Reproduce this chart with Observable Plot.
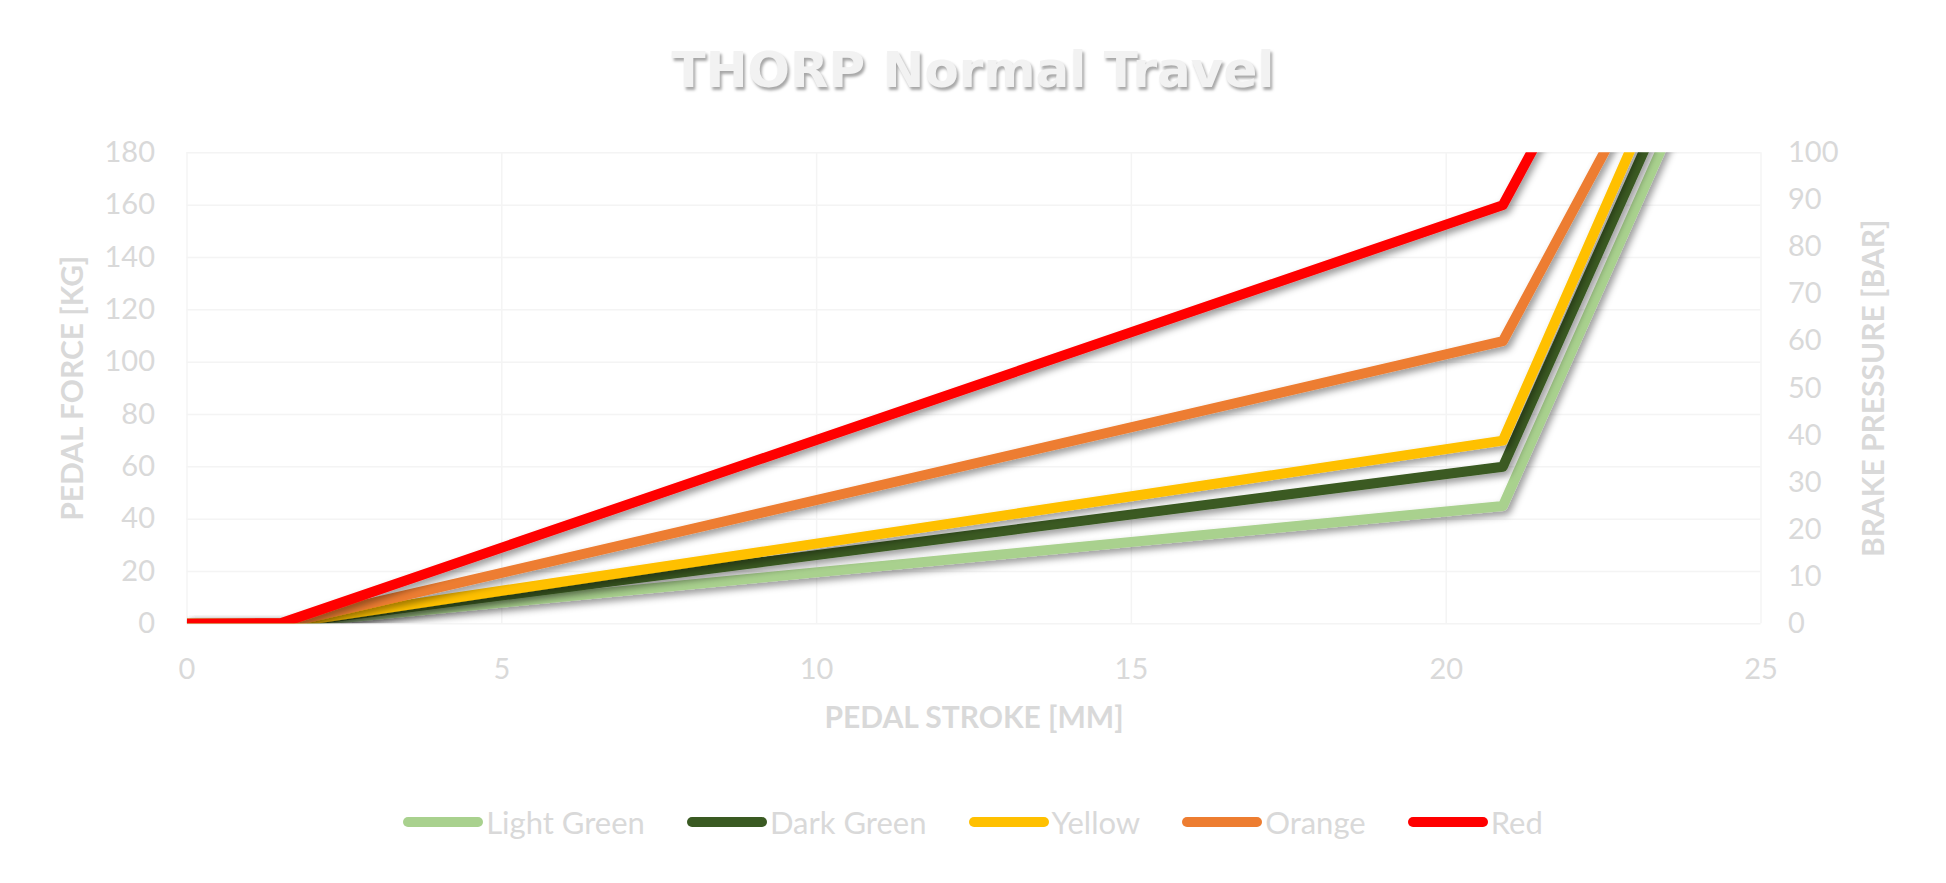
<!DOCTYPE html>
<html>
<head>
<meta charset="utf-8">
<script src="https://cdn.jsdelivr.net/npm/d3@7"></script>
<script src="https://cdn.jsdelivr.net/npm/@observablehq/plot@0.6"></script>
<style>
  html, body { margin:0; padding:0; background:#fff; width:1946px; height:883px; overflow:hidden; }
  #title { position:absolute; left:0; top:45px; width:1946px; text-align:center;
    font-family:"DejaVu Sans", sans-serif; font-weight:bold; font-size:50px; line-height:50px;
    color:#f2f2f2; text-shadow:2px 3px 3px rgba(0,0,0,0.35); }
  #chart { position:absolute; left:0; top:110px; }
  #legend { position:absolute; left:0; top:803px; width:1946px; display:flex; justify-content:center; align-items:center;
    font-family:Lato, sans-serif; font-size:31px; color:#d9d9d9; }
  .item { display:flex; align-items:center; margin:0 21px; }
  .sw { width:80px; height:10px; border-radius:5px; margin-right:3px; }
</style>
</head>
<body>
<div id="title">THORP Normal Travel</div>
<div id="chart"></div>
<div id="legend"></div>
<script>
// ---- data ----
const seriesNames = ["Light Green", "Dark Green", "Yellow", "Orange", "Red"];
const seriesColors = ["#A9D18E", "#3A5A22", "#FFC000", "#ED7D31", "#FF0000"];
const strokeMM = [0, 1.5, 20.9, 24];
const lightGreen = [0, 0, 45, 213];
const darkGreen = [0, 0, 60, 227];
const yellow = [0, 0, 70, 240];
const orange = [0, 0, 108, 247];
const red = [0, 0.3, 160, 298];
const forceTicks = [0, 20, 40, 60, 80, 100, 120, 140, 160, 180];
const strokeTicks = [0, 5, 10, 15, 20, 25];
const pressureTicks = [0, 10, 20, 30, 40, 50, 60, 70, 80, 90, 100];
const kgPerBar = 180 / 100;

const seriesValues = [lightGreen, darkGreen, yellow, orange, red];
const rows = [];
seriesNames.forEach((name, i) => {
  strokeMM.forEach((x, j) => rows.push({series: name, x, y: seriesValues[i][j]}));
});

const txt = "#d9d9d9";
const grid = "#f4f4f4";

const chart = Plot.plot({
  width: 1946,
  height: 660,
  marginLeft: 186.5,
  marginRight: 185.5,
  marginTop: 42.3,
  marginBottom: 146.7,
  style: {fontFamily: "Lato, sans-serif", background: "transparent"},
  x: {domain: [0, 25]},
  y: {domain: [0, 180]},
  color: {domain: seriesNames, range: seriesColors},
  marks: [
    Plot.gridY(forceTicks, {stroke: grid, strokeOpacity: 1, strokeWidth: 1.5}),
    Plot.gridX(strokeTicks, {stroke: grid, strokeOpacity: 1, strokeWidth: 1.5}),
    Plot.axisY(forceTicks, {anchor: "left", tickSize: 0, tickPadding: 32, fontSize: 29, color: txt, label: null}),
    Plot.axisY(pressureTicks.map(p => p * kgPerBar), {anchor: "right", tickSize: 0, tickPadding: 27, fontSize: 29, color: txt, label: null,
      tickFormat: d => String(Math.round(d / kgPerBar))}),
    Plot.axisX(strokeTicks, {tickSize: 0, tickPadding: 35, fontSize: 29, color: txt, label: null}),
    Plot.line(rows, {x: "x", y: "y", z: "series", stroke: "series", strokeWidth: 10, clip: true,
      strokeLinejoin: "round", strokeLinecap: "butt"}),
    Plot.text(["PEDAL FORCE [KG]"], {frameAnchor: "left", textAnchor: "middle", dx: -114, rotate: -90, fontSize: 30, fontWeight: 700, fill: txt}),
    Plot.text(["BRAKE PRESSURE [BAR]"], {frameAnchor: "right", textAnchor: "middle", dx: 113, rotate: -90, fontSize: 30, fontWeight: 700, fill: txt}),
    Plot.text(["PEDAL STROKE [MM]"], {frameAnchor: "bottom", dy: 104, fontSize: 30, fontWeight: 700, fill: txt})
  ]
});
document.getElementById("chart").appendChild(chart);

// drop shadow on the series lines
const svg = d3.select(chart);
const f = svg.insert("defs", ":first-child").append("filter")
  .attr("id", "lineShadow").attr("filterUnits", "userSpaceOnUse")
  .attr("x", 0).attr("y", 0).attr("width", 1946).attr("height", 660);
f.append("feDropShadow").attr("dx", 3).attr("dy", 4).attr("stdDeviation", 3.5)
  .attr("flood-color", "#000").attr("flood-opacity", 0.4);
svg.selectAll('g[aria-label="line"] path').attr("filter", "url(#lineShadow)");

// legend
const legend = d3.select("#legend");
seriesNames.forEach((name, i) => {
  const it = legend.append("div").attr("class", "item");
  it.append("div").attr("class", "sw").style("background", seriesColors[i]);
  it.append("span").text(name);
});
</script>
</body>
</html>
